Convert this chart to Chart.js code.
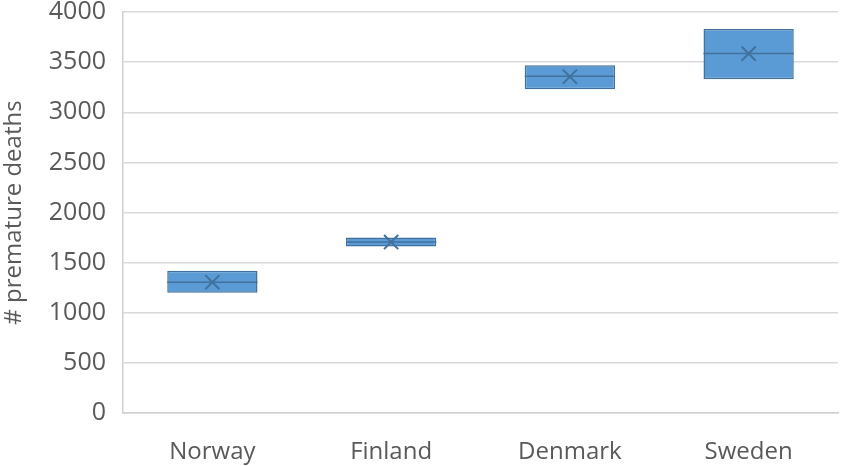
<!DOCTYPE html>
<html>
<head>
<meta charset="utf-8">
<script src="https://cdn.jsdelivr.net/npm/chart.js@4/dist/chart.umd.min.js"></script>
<style>
  html, body { margin: 0; padding: 0; background: #fff; }
  #wrap { width: 850px; height: 466px; }
</style>
</head>
<body>
<div id="wrap"><canvas id="chart"></canvas></div>
<script>
// Données
const countries = ['Norway', 'Finland', 'Denmark', 'Sweden'];
const lowValues = [1200, 1660, 3230, 3330];
const highValues = [1420, 1750, 3470, 3830];
const medianValues = [1305, 1705, 3360, 3585];
const meanValues = [1305, 1705, 3355, 3585];
const yTicks = [0, 500, 1000, 1500, 2000, 2500, 3000, 3500, 4000];

const boxFill = '#5b9bd5';
const boxLine = '#41719c';
const textColor = '#595959';
const fontFamily = "'Open Sans', sans-serif";

// Ligne de médiane dans chaque boîte
const medianPlugin = {
    id: 'medianLine',
    afterDatasetsDraw(chart) {
        const meta = chart.getDatasetMeta(0);
        const yScale = chart.scales.y;
        const ctx = chart.ctx;
        ctx.save();
        ctx.strokeStyle = boxLine;
        ctx.lineWidth = 1.5;
        meta.data.forEach(function(bar, i) {
            const y = yScale.getPixelForValue(medianValues[i]);
            ctx.beginPath();
            ctx.moveTo(bar.x - bar.width / 2, y);
            ctx.lineTo(bar.x + bar.width / 2, y);
            ctx.stroke();
        });
        ctx.restore();
    }
};

new Chart(document.getElementById('chart'), {
    type: 'bar',
    data: {
        labels: countries,
        datasets: [{
            type: 'bar',
            data: countries.map((c, i) => [lowValues[i], highValues[i]]),
            backgroundColor: boxFill,
            borderColor: boxLine,
            borderWidth: 1.5,
            borderSkipped: false,
            barPercentage: 0.505,
            categoryPercentage: 1,
            order: 2
        }, {
            type: 'line',
            data: meanValues,
            showLine: false,
            pointStyle: 'crossRot',
            pointRadius: 10,
            pointBorderWidth: 2,
            pointBorderColor: boxLine,
            order: 1
        }]
    },
    options: {
        responsive: true,
        maintainAspectRatio: false,
        animation: false,
        layout: { padding: { top: 0, right: -3, bottom: 0, left: 0 } },
        plugins: {
            legend: { display: false },
            tooltip: { enabled: false }
        },
        scales: {
            x: {
                grid: { display: false, drawTicks: false },
                border: { color: '#d0d0d0', width: 1.5 },
                ticks: {
                    color: textColor,
                    font: { family: fontFamily, size: 24 },
                    padding: 25
                },
                afterFit: function(axis) {
                    axis.height = 53;
                    axis.paddingTop = 0;
                    axis.paddingBottom = 0;
                    axis.paddingLeft = 0;
                    axis.paddingRight = 0;
                }
            },
            y: {
                min: 0,
                max: 4000,
                afterBuildTicks: function(axis) {
                    axis.ticks = yTicks.map(v => ({ value: v }));
                },
                grid: { color: '#d9d9d9', lineWidth: 1.5, drawTicks: false },
                border: { color: '#d0d0d0', width: 1.5 },
                ticks: {
                    color: textColor,
                    font: { family: fontFamily, size: 25, lineHeight: 1 },
                    padding: 17,
                    callback: function(v) { return String(v); }
                },
                title: {
                    display: true,
                    text: '# premature deaths',
                    color: textColor,
                    font: { family: fontFamily, size: 24 },
                    padding: { top: 0, bottom: 0 }
                },
                afterFit: function(axis) {
                    axis.width = 123;
                    axis.paddingTop = 12;
                    axis.paddingBottom = 0;
                }
            }
        }
    },
    plugins: [medianPlugin]
});
</script>
</body>
</html>
